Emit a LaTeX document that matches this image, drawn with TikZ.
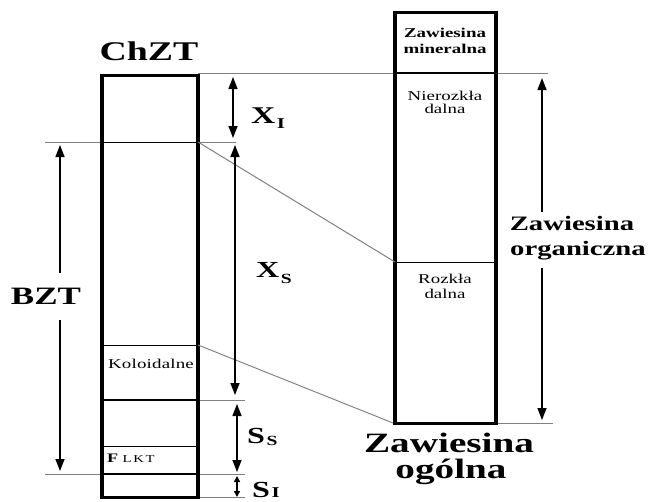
\documentclass[tikz,border=0pt]{standalone}
\usepackage{fontspec}
\setmainfont{Liberation Serif}
\usetikzlibrary{arrows.meta}
% text in this sketch is set wide
\newcommand\widetext[1]{\scalebox{1.4}[1]{#1}}
\newcommand\fs[1]{\fontsize{#1}{#1}\selectfont}
\tikzset{
  x=1pt, y=-1pt,
  sideline/.style={line width=4.6pt, black},
  capline/.style={line width=3pt, black},
  divider/.style={line width=1pt, black},
  guide/.style={line width=1pt, gray},
  dim/.style={line width=1.4pt, black, -{Triangle[length=12pt,width=9pt]}},
  dimboth/.style={line width=1.4pt, black, {Triangle[length=12pt,width=9pt]}-{Triangle[length=12pt,width=9pt]}},
  dimsmall/.style={line width=1.4pt, black, {Triangle[length=6pt,width=6pt]}-{Triangle[length=6pt,width=6pt]}},
  lbl/.style={inner sep=0pt, font=\fs{13.5}},
  big/.style={inner sep=0pt, font=\bfseries},
}
\begin{document}
\begin{tikzpicture}
\useasboundingbox (0,0) rectangle (651,501);

% reference levels
\coordinate (L0) at (198,73);   \coordinate (L0e) at (548,73);
\coordinate (L1w) at (45,142);  \coordinate (L1e) at (236,142);
\coordinate (L4) at (198,400);  \coordinate (L4e) at (245,400);
\coordinate (L6w) at (45,474);  \coordinate (L6e) at (245,474);
\coordinate (L7) at (198,497);  \coordinate (L7e) at (245,497);
\coordinate (R3) at (496,423);  \coordinate (R3e) at (553,423);

% grey guide lines
\draw[guide] (L0) -- (L0e);
\draw[guide] (L1w) -- (L1e);
\draw[guide] (L4) -- (L4e);
\draw[guide] (L6w) -- (L6e);
\draw[guide] (L7) -- (L7e);
\draw[guide] (R3) -- (R3e);

% left column (ChZT)
\coordinate (A1) at (102,142); \coordinate (B1) at (198,142);
\coordinate (A2) at (102,345); \coordinate (B2) at (198,345);
\coordinate (A3) at (102,400); \coordinate (B3) at (198,400);
\coordinate (A4) at (102,446); \coordinate (B4) at (198,446);
\coordinate (A5) at (102,474); \coordinate (B5) at (198,474);
\coordinate (LT1) at (102,75);  \coordinate (LT2) at (198,75);
\coordinate (LB1) at (102,497); \coordinate (LB2) at (198,497);
\draw[divider] (A1) -- (B1);
\draw[divider] (A2) -- (B2);
\draw[divider, line width=1.4pt] (A3) -- (B3);
\draw[divider] (A4) -- (B4);
\draw[divider, line width=1.4pt] (A5) -- (B5);
\draw[capline] (LT1) -- (LT2);
\draw[capline] (LB1) -- (LB2);
\draw[sideline] ([yshift=1.5pt]LT1) -- ([yshift=-1.5pt]LB1);
\draw[sideline] ([yshift=1.5pt]LT2) -- ([yshift=-1.5pt]LB2);

% right column (Zawiesina ogolna)
\coordinate (C1) at (395,73);  \coordinate (D1) at (496,73);
\coordinate (C2) at (395,262); \coordinate (D2) at (496,262);
\coordinate (C3) at (393,423);
\coordinate (RT1) at (395,12);  \coordinate (RT2) at (496,12);
\coordinate (RB1) at (395,423); \coordinate (RB2) at (496,423);
\draw[divider, line width=1.4pt] (C1) -- (D1);
\draw[divider] (C2) -- (D2);
\draw[capline] (RT1) -- (RT2);
\draw[capline] (RB1) -- (RB2);
\draw[sideline] ([yshift=1.5pt]RT1) -- ([yshift=-1.5pt]RB1);
\draw[sideline] ([yshift=1.5pt]RT2) -- ([yshift=-1.5pt]RB2);

% correspondence lines
\draw[guide] (B1) -- (C2);
\draw[guide] (B2) -- (C3);

% dimension arrows
\coordinate (xi1) at (233,77);  \coordinate (xi2) at (233,138);
\coordinate (xs1) at (235,145); \coordinate (xs2) at (235,395);
\coordinate (ss1) at (237,404); \coordinate (ss2) at (237,472);
\coordinate (si1) at (237,476); \coordinate (si2) at (237,497);
\draw[dimboth] (xi1) -- (xi2);
\draw[dimboth] (xs1) -- (xs2);
\draw[dimboth] (ss1) -- (ss2);
\draw[dimsmall] (si1) -- (si2);

\coordinate (bz0) at (60,273); \coordinate (bz1) at (60,145);
\coordinate (bz2) at (60,320); \coordinate (bz3) at (60,471);
\draw[dim] (bz0) -- (bz1);
\draw[dim] (bz2) -- (bz3);

\coordinate (zo0) at (542,212); \coordinate (zo1) at (542,78);
\coordinate (zo2) at (542,268); \coordinate (zo3) at (542,420);
\draw[dim] (zo0) -- (zo1);
\draw[dim] (zo2) -- (zo3);

% headings and labels
\node[big, anchor=base] (chzt) at (149,60) {\widetext{\fs{27}ChZT}};
\node[big, anchor=base] (bzt) at (46,304) {\widetext{\fs{25}BZT}};

\node[big, anchor=base west] (xi) at (251,123)
  {\widetext{\fs{24}X\hspace{1pt}\fs{15}\raisebox{-5pt}{I}}};
\node[big, anchor=base west] (xs) at (256,277)
  {\widetext{\fs{23}X\hspace{1pt}\fs{14}\raisebox{-6pt}{S}}};
\node[big, anchor=base west] (ss) at (247,443)
  {\widetext{\fs{23}S\hspace{1pt}\fs{14}\raisebox{-2pt}{S}}};
\node[big, anchor=base west] (si) at (252,497)
  {\widetext{\fs{23}S\hspace{1pt}\fs{15}I}};

\node[big, anchor=base] (zorg) at (572,230)
  {\widetext{\fs{20.5}Zawiesina}};
\node[big, anchor=base] (zorg2) at (578,255)
  {\widetext{\fs{20.5}organiczna}};

\node[big, anchor=base] (zog) at (449,452)
  {\widetext{\fs{28}Zawiesina}};
\node[big, anchor=base] (zog2) at (451,478)
  {\widetext{\fs{28}ogólna}};

\node[big, anchor=base] (zm) at (445,37) {\widetext{\fs{13.5}Zawiesina}};
\node[big, anchor=base] (zm2) at (445,53) {\widetext{\fs{13.5}mineralna}};

\node[lbl, anchor=base] (nr) at (445,100) {\widetext{Nierozkła}};
\node[lbl, anchor=base] (nr2) at (445,113) {\widetext{dalna}};

\node[lbl, anchor=base] (rz) at (445,283) {\widetext{Rozkła}};
\node[lbl, anchor=base] (rz2) at (445,298) {\widetext{dalna}};

\node[lbl, anchor=base] (kol) at (151,368)
  {\widetext{\addfontfeature{LetterSpace=1}Koloidalne}};

\node[lbl, anchor=base west] (lkt) at (107,462)
  {\widetext{\fs{13}\textbf{F}\hspace{3pt}\addfontfeature{LetterSpace=12}\fs{10.5}LKT}};
\end{tikzpicture}
\end{document}
